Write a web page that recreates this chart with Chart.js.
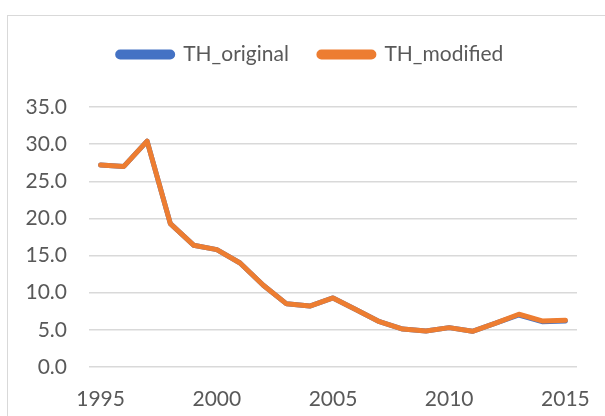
<!DOCTYPE html>
<html>
<head>
<meta charset="utf-8">
<script src="https://cdn.jsdelivr.net/npm/chart.js@4"></script>
<style>
  html, body { margin: 0; padding: 0; background: #fff; }
  #frame {
    position: absolute; left: 7px; top: 15px; width: 620px; height: 420px;
    border: 1px solid #d9d9d9; box-sizing: border-box;
  }
  #wrap { position: absolute; left: 0; top: 0; width: 605px; height: 416px; }
</style>
</head>
<body>
<div id="frame"></div>
<div id="wrap"><canvas id="chart" width="605" height="416"></canvas></div>
<script>
const years = [1995, 1996, 1997, 1998, 1999, 2000, 2001, 2002, 2003, 2004, 2005,
  2006, 2007, 2008, 2009, 2010, 2011, 2012, 2013, 2014, 2015];

const thOriginal = [27.2, 27.0, 30.4, 19.3, 16.4, 15.8, 14.0, 11.0, 8.5, 8.2, 9.3,
  7.7, 6.1, 5.1, 4.85, 5.3, 4.8, 5.9, 7.0, 6.1, 6.2];
const thModified = [27.2, 27.0, 30.4, 19.3, 16.4, 15.8, 14.0, 11.0, 8.5, 8.2, 9.3,
  7.7, 6.1, 5.1, 4.85, 5.3, 4.8, 5.9, 7.1, 6.2, 6.3];

const ctx = document.getElementById("chart").getContext("2d");

const FONT = "Lato, sans-serif";
const TEXT = "#595959";

// extra room under the legend, and nudge it right like the original
const legendGap = {
  id: "legendGap",
  beforeInit(chart) {
    const fit = chart.legend.fit;
    chart.legend.fit = function () {
      fit.bind(chart.legend)();
      this.height += 32;
    };
  },
  afterLayout(chart) {
    chart.legend.left += 22;
    chart.legend.right += 22;
  },
};

new Chart(ctx, {
  type: "line",
  data: {
    labels: years,
    datasets: [
      {
        label: "TH_original",
        data: thOriginal,
        borderColor: "#4472C4",
        backgroundColor: "#4472C4",
        borderWidth: 5,
        borderJoinStyle: "round",
        borderCapStyle: "round",
        pointRadius: 0,
        fill: false,
        order: 1,
      },
      {
        label: "TH_modified",
        data: thModified,
        borderColor: "#ED7D31",
        backgroundColor: "#ED7D31",
        borderWidth: 5,
        borderJoinStyle: "round",
        borderCapStyle: "round",
        pointRadius: 0,
        fill: false,
        order: 0,
      },
    ],
  },
  plugins: [legendGap],
  options: {
    responsive: false,
    animation: false,
    layout: { padding: { top: 14, right: 28, left: 0, bottom: 0 } },
    plugins: {
      tooltip: { enabled: false },
      legend: {
        position: "top",
        labels: {
          color: TEXT,
          font: { family: FONT, size: 21 },
          boxWidth: 55,
          boxHeight: 5,
          useBorderRadius: true,
          borderRadius: 2.5,
          padding: 30,
          sort: (a, b) => a.datasetIndex - b.datasetIndex,
        },
      },
    },
    scales: {
      x: {
        offset: true,
        grid: { display: false, drawTicks: false },
        border: { display: false },
        ticks: {
          color: TEXT,
          font: { family: FONT, size: 21 },
          autoSkip: false,
          maxRotation: 0,
          padding: 20,
          callback: function (v, i) {
            const y = years[i];
            return y % 5 === 0 ? String(y) : null;
          },
        },
        afterFit: s => {
          s.height = 49;
          s.paddingLeft = 0;
          s.paddingRight = 0;
        },
      },
      y: {
        min: 0,
        max: 35,
        grid: { color: "#d9d9d9", lineWidth: 1.5, drawTicks: false },
        border: { display: false },
        ticks: {
          stepSize: 5,
          color: TEXT,
          font: { family: FONT, size: 21 },
          padding: 22,
          callback: v => v.toFixed(1),
        },
        afterFit: s => { s.width = 89; },
      },
    },
  },
});
</script>
</body>
</html>
